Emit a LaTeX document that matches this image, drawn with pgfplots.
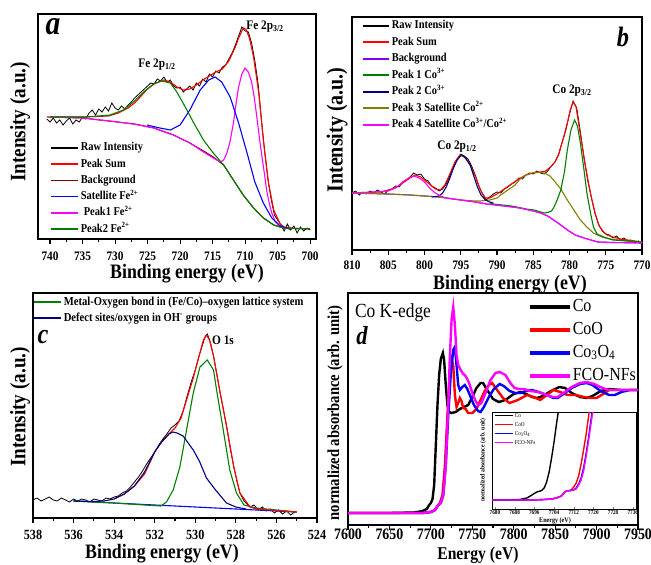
\documentclass[border=0pt]{standalone}
\usepackage{fontspec}
\setmainfont{Liberation Serif}[FakeStretch=0.87]
\usepackage{pgfplots}
\pgfplotsset{compat=1.18}
\newcommand{\fs}[1]{\fontsize{#1}{#1}\selectfont}
\definecolor{xgreen}{RGB}{0,128,0}
\definecolor{xdarkred}{RGB}{128,0,0}
\definecolor{xnavy}{RGB}{0,0,128}
\definecolor{xolive}{RGB}{128,128,0}
\definecolor{xviolet}{RGB}{128,0,255}
\definecolor{xmag}{RGB}{255,0,255}
\pgfplotsset{
  panel/.style={scale only axis, anchor=south west, axis line style={line width=1.5pt},
    tick align=outside, xtick pos=left, ytick=\empty, major tick length=4.5pt, minor tick length=2.5pt,
    every tick/.append style={black, line width=1.1pt}, minor x tick num=1,
    /pgf/number format/assume math mode=true, /pgf/number format/1000 sep={},
    legend cell align=left, every axis plot/.append style={line width=1.1pt}},
  leg/.style={legend style={draw=none, fill=none, inner sep=0pt, column sep=2pt,
    nodes={inner sep=0pt, text height=9pt, text depth=3pt}}},
}
\begin{document}
\begin{tikzpicture}
\useasboundingbox (0,0) rectangle (651pt,-565pt);

% ---------------- (a) Fe 2p
\begin{axis}[panel, leg, at={(38pt,-239pt)}, width=278pt, height=225pt,
  xmin=699.1, xmax=741.85, x dir=reverse, ymin=0, ymax=225, xtick={700,705,...,740},
  x tick label style={font=\bfseries\fs{13}, yshift=-4.5pt},
  legend style={at={(0.043,0.433)}, anchor=north west, row sep=4.3pt, font=\bfseries\fs{12}},
  legend image code/.code={\draw[#1, line width=1.6pt] (0pt,0pt) -- (27pt,0pt);}]
\addlegendimage{black}\addlegendentry{Raw Intensity}
\addlegendimage{red}\addlegendentry{Peak Sum}
\addlegendimage{xdarkred}\addlegendentry{Background}
\addlegendimage{blue}\addlegendentry{Satellite Fe\textsuperscript{2+}}
\addlegendimage{xmag}\addlegendentry{\hspace{3pt}Peak1 Fe\textsuperscript{2+}}
\addlegendimage{xgreen}\addlegendentry{Peak2 Fe\textsuperscript{2+}}
\addplot[forget plot, black, line width=0.8pt] coordinates {(740.5,120)(740,117)(739.5,121)(739,116)(738.5,119)(738,114)(737.5,118)(737,121)(736.5,115)(736,119)(735.5,117)(735,122)(734.5,120)(734,126)(733.5,129)(733,124)(732.5,130)(732,127)(731.5,132)(731,128)(730.5,136)(730,131)(729.5,129)(729,133)(728.5,130)(728,134)(727.5,137)(727,141)(726.5,144)(726,147)(725.5,150)(725,153)(724.5,156)(724,155)(723.5,160)(723,158)(722.5,162)(722,157)(721.5,159)(721,153)(720.5,151)(720,152)(719.5,147)(719,150)(718.5,153)(718,149)(717.5,156)(717,153)(716.5,160)(716,157)(715.5,165)(715,162)(714.5,168)(714,166)(713.5,172)(713,174)(712.5,180)(712,186)(711.5,194)(711,203)(710.5,212)(710,208)(709.5,207)(709,196)(708.5,178)(708,155)(707.5,120)(707,88)(706.5,60)(706,40)(705.5,24)(705,19)(704.5,14)(704,8)(703.5,15)(703,9)(702.5,13)(702,6)(701.5,12)(701,8)(700.5,11)(700,9)};
\addplot[forget plot, red] coordinates {(740.5,122)(735,122)(731,123)(729.5,126)(728,131)(727,136)(726,143)(725,150)(724,155)(723,158)(722.5,159)(721.5,157)(720.5,152)(719.5,149)(718.5,150)(717.5,154)(716.5,159)(715.5,163)(714.5,167)(713.5,170)(712.5,178)(711.5,192)(711,201)(710.5,208)(710.2,211)(709.8,209)(709.3,200)(708.7,182)(707.9,146)(707.2,99)(706.4,56)(705.6,29)(704.6,15)(704,12)(703,11)(702,10)};
\addplot[forget plot, xdarkred] coordinates {(740,122)(735,121)(731,118)(727,115)(724,111)(721,104)(718.5,96)(716.4,88)(714.9,82)(713.3,74)(711.8,59)(710.3,44)(708.7,31)(707.2,21)(705.6,14)(704.1,11)(700,10)};
\addplot[forget plot, xmag] coordinates {(740,122)(734.9,121)(730.8,118)(727.2,115)(724.1,111)(721,104)(718.5,96)(716.4,87)(714.9,81)(713.8,77)(713.3,79)(712.8,86)(712.3,98)(711.8,116)(711.4,135)(711,152)(710.5,165)(710,171)(709.5,167)(709,157)(708.6,142)(708.2,122)(707.8,101)(707.4,82)(707,64)(706.7,49)(706.3,36)(705.9,26)(705.4,18)(704.9,14)(704,11)(703.1,10)};
\addplot[forget plot, blue] coordinates {(725.1,114)(723.1,111)(721.5,109)(720,114)(718.5,129)(716.9,149)(715.6,159)(714.6,162)(713.6,157)(712.3,142)(711,116)(709.7,86)(708.5,57)(707.2,36)(705.9,21)(704.6,13)(703.1,10)};
\addplot[forget plot, xgreen] coordinates {(740,122)(734.4,122)(730.8,124)(728.7,129)(727.2,137)(725.6,147)(724.1,155)(722.8,158)(721.5,156)(720.5,147)(719.2,132)(717.9,116)(716.4,99)(714.9,86)(713.3,74)(711.8,59)(710.3,44)(708.7,31)(707.2,21)(705.6,14)(704.1,11)(700,10)};
\end{axis}

% ---------------- (b) Co 2p
\begin{axis}[panel, leg, at={(352pt,-250pt)}, width=290pt, height=233pt,
  xmin=770, xmax=810, x dir=reverse, ymin=0, ymax=233, xtick={770,775,...,810},
  x tick label style={font=\bfseries\fs{13}, yshift=-3pt},
  legend style={at={(0.0345,0.989)}, anchor=north west, row sep=4.5pt, font=\bfseries\fs{12}},
  legend image code/.code={\draw[#1, line width=1.6pt] (0pt,0pt) -- (26pt,0pt);}]
\addlegendimage{black}\addlegendentry{Raw Intensity}
\addlegendimage{red}\addlegendentry{Peak Sum}
\addlegendimage{xviolet}\addlegendentry{Background}
\addlegendimage{xgreen}\addlegendentry{Peak 1 Co\textsuperscript{3+}}
\addlegendimage{xnavy}\addlegendentry{Peak 2 Co\textsuperscript{3+}}
\addlegendimage{xolive}\addlegendentry{Peak 3 Satellite Co\textsuperscript{2+}}
\addlegendimage{xmag}\addlegendentry{Peak 4 Satellite Co\textsuperscript{3+}/Co\textsuperscript{2+}}
\addplot[forget plot, black, line width=0.8pt] coordinates {(810,57)(809.5,59)(809,55)(808.5,58)(808,56)(807.5,59)(807,57)(806.5,60)(806,58)(805.5,56)(805,60)(804.5,61)(804,64)(803.5,63)(803,68)(802.5,70)(802,73)(801.5,77)(801,75)(800.5,76)(800,71)(799.5,69)(799,64)(798.5,62)(798,59)(797.5,61)(797,66)(796.5,74)(796,84)(795.5,91)(795,96)(794.5,94)(794,91)(793.5,84)(793,75)(792.5,64)(792,56)(791.5,50)(791,53)(790.5,56)(790,58)(789.5,57)(789,61)(788.5,63)(788,66)(787.5,68)(787,72)(786.5,71)(786,75)(785.5,77)(785,76)(784.5,79)(784,77)(783.5,76)(783,79)(782.5,84)(782,88)(781.5,96)(781,108)(780.5,120)(780,136)(779.5,149)(779,142)(778.5,118)(778,92)(777.5,70)(777,53)(776.5,37)(776,26)(775.5,19)(775,16)(774.5,15)(774,12)(773.5,14)(773,10)(772.5,12)(772,9)(771.5,10)(771,7)(770.5,9)(770,5)};
\addplot[forget plot, red] coordinates {(810,57)(806,58)(804,62)(803,67)(802,72)(801.3,75)(800.5,73)(799.5,67)(798.5,61)(797.8,60)(797.2,65)(796.5,76)(795.8,88)(795.1,95)(794.5,93)(793.8,86)(793,74)(792.3,60)(791.6,52)(791,52)(790,56)(789,61)(788,66)(787,71)(786,75)(785,77)(784,78)(783.3,79)(782.6,83)(782,88)(781.5,95)(781.2,103)(780.8,113)(780.3,127)(779.9,140)(779.5,148)(779.1,143)(778.7,125)(778.2,102)(777.8,84)(777.3,64)(776.9,50)(776.4,35)(775.9,24)(775.3,18)(774.8,15)(774,13)(773,11)(772,10)(770,8)};
\addplot[forget plot, xviolet] coordinates {(810,57)(805,56)(802,55)(800,54)(798,53)(795,50)(793,48)(791.4,46)(789,44)(786.8,42)(785,39)(784,37)(783,34)(782.2,30)(781.2,25)(780.3,20)(779.2,15)(778,12)(776.1,8)(774,7.5)(770,7)};
\addplot[forget plot, xolive] coordinates {(810,57)(805,56)(802,55)(800,54)(798,53)(795,50)(793,49)(792.3,49)(791,50)(790,52)(789.5,55)(788.5,60)(787.5,65)(786.8,71)(786,75)(785.2,77)(784.4,78)(783.5,77)(782.7,74)(782.2,70)(781.2,61)(780.3,50)(779.4,40)(778.5,30)(777.6,23)(776.7,17)(775.5,13)(774.4,11)(772,9)(770,8)};
\addplot[forget plot, xgreen] coordinates {(791,47)(790.5,46)(788,44)(786,41)(784.9,40)(783.5,37)(783,37.5)(782.5,39)(782.2,42)(781.7,50)(781.2,60)(780.7,78)(780.3,100)(779.8,120)(779.3,130)(778.9,124)(778.5,107)(778,80)(777.6,57)(777.1,37)(776.7,23)(776.2,16)(775.3,13)(774,10)(772,9)(770,8)};
\addplot[forget plot, xnavy] coordinates {(799,53)(798,54)(797.5,57)(797,63)(796.5,72)(796,82)(795.5,90)(794.9,95)(794.3,92)(793.7,85)(793.2,74)(792.7,63)(792.2,55)(791.6,50)(791,48)(790.5,47)};
\addplot[forget plot, xmag] coordinates {(810,57)(807,58)(805,59)(804,62)(803,68)(802.2,72)(801.5,74)(800.7,72)(800,68)(799.3,62)(798.5,57)(797.8,54)(797,52)(795,50)(793,48)(791.4,46)(789,44)(786.8,42)(785,39)(784,37)(783,34)(782.2,30)(781.2,25)(780.3,20)(779.2,15)(778,12)(776.1,8)(774,7.5)(770,7)};
\end{axis}

% ---------------- (c) O 1s
\begin{axis}[panel, leg, at={(33pt,-518pt)}, width=284pt, height=225pt,
  xmin=524, xmax=538, x dir=reverse, ymin=0, ymax=225, xtick={524,526,...,538},
  x tick label style={font=\bfseries\fs{14}, yshift=-4.5pt},
  legend style={at={(0,0.987)}, anchor=north west, row sep=4pt, font=\bfseries\fs{12.2}},
  legend image code/.code={\draw[#1, line width=1.6pt] (0pt,0pt) -- (27pt,0pt);}]
\addlegendimage{xgreen}\addlegendentry{Metal-Oxygen bond in (Fe/Co)--oxygen lattice system}
\addlegendimage{xnavy}\addlegendentry{Defect sites/oxygen in OH\textsuperscript{-} groups}
\addplot[forget plot, black, line width=0.8pt] coordinates {(538,18)(537.8,20)(537.6,17)(537.4,19)(537.2,21)(537,18)(536.8,17)(536.6,20)(536.4,18)(536.2,16)(536,19)(535.8,17)(535.6,19)(535.4,18)(535.2,16)(535,19)(534.8,18)(534.6,17)(534.4,20)(534.2,19)(534,21)(533.8,22)(533.6,25)(533.4,27)(533.2,31)(533,36)(532.8,41)(532.6,47)(532.4,54)(532.2,60)(532,66)(531.8,73)(531.6,79)(531.4,84)(531.2,90)(531,93)(530.8,97)(530.6,107)(530.4,122)(530.2,136)(530,148)(529.8,163)(529.6,176)(529.5,182)(529.4,184)(529.25,175)(529.1,162)(528.95,145)(528.8,128)(528.6,107)(528.45,91)(528.3,72)(528.1,51)(527.95,37)(527.8,25)(527.6,17)(527.3,11)(527.1,13)(526.9,8)(526.7,11)(526.5,7)(526.3,9)(526.1,5)(525.9,8)(525.7,4)(525.5,7)(525.3,3)(525.1,6)};
\addplot[forget plot, blue] coordinates {(536,17)(525,6)};
\addplot[forget plot, xgreen] coordinates {(536,17)(534,15)(532.5,13)(531.7,12)(531.42,16)(531.09,28)(530.76,51)(530.43,88)(530.1,125)(529.77,151)(529.41,158)(529.1,148)(528.95,128)(528.62,88)(528.3,48)(527.97,25)(527.6,13)(527,10)(526,8)(525,6)};
\addplot[forget plot, red] coordinates {(534,19)(533.5,24)(533,32)(532.5,44)(532,66)(531.7,75)(531.3,84)(531,90)(530.7,100)(530.4,120)(530.1,140)(529.8,163)(529.6,178)(529.45,183)(529.3,178)(529.1,162)(528.8,128)(528.45,91)(528.1,51)(527.8,25)(527.3,11)(527,9)(526,7.5)(525,6)};
\addplot[forget plot, xnavy] coordinates {(536,17)(535,16.5)(534.5,17)(534,19)(533.5,24)(533,32)(532.5,46)(532,66)(531.7,75)(531.3,84)(531.1,86)(530.9,85)(530.6,82)(530.1,68)(529.8,57)(529.45,40)(529,28)(528.46,15)(528,11)(527.5,9)};
\end{axis}

% ---------------- (d) Co K-edge XANES
\begin{axis}[panel, at={(348pt,-525pt)}, width=290pt, height=232pt,
  xmin=7600, xmax=7950, ymin=0, ymax=232, xtick={7600,7650,...,7950},
  x tick label style={font=\bfseries\fs{16}, yshift=4pt},
  every axis plot/.append style={line width=2.4pt},
  legend style={at={(0.621,0.978)}, anchor=north west, draw=none, fill=none, inner sep=0pt, column sep=1pt,
    row sep=6pt, font=\fs{18.4}, nodes={inner sep=0pt, text height=13pt, text depth=4pt}},
  legend image code/.code={\draw[#1, line width=3.5pt] (0pt,0pt) -- (40pt,0pt);}]
\addlegendimage{black}\addlegendentry{Co}
\addlegendimage{red}\addlegendentry{CoO}
\addlegendimage{blue}\addlegendentry{Co\textsubscript{3}O\textsubscript{4}}
\addlegendimage{xmag}\addlegendentry{FCO-NFs}
\addplot[forget plot, black] coordinates {(7600,12)(7650,12)(7680,12.5)(7690,14)(7695,16)(7698,20)(7700,22)(7702,26)(7704,40)(7706,80)(7708,120)(7710,150)(7712,166)(7714.5,172)(7716,165)(7718,140)(7720,120)(7722,113)(7725,112)(7730,113)(7735,116)(7740,118)(7745,120)(7750,128)(7755,137)(7760,142)(7763,142)(7768,135)(7775,126)(7782,123)(7790,125)(7800,131)(7808,133)(7815,131)(7822,128)(7828,127)(7835,129)(7845,134)(7855,138)(7862,137)(7870,132)(7880,128)(7888,127)(7895,129)(7905,134)(7915,136)(7930,135)(7950,135)};
\addplot[forget plot, red] coordinates {(7600,12)(7690,12)(7700,13)(7705,15)(7708,19)(7711,22)(7714,30)(7717,60)(7720,110)(7723,150)(7725.5,165)(7727,160)(7729,130)(7731,118)(7733,122)(7735,127)(7737,124)(7739,117)(7742,116)(7745,112)(7750,112)(7755,116)(7760,125)(7765,134)(7770,140)(7774,142)(7780,135)(7787,127)(7795,122)(7805,125)(7816,130)(7824,128)(7832,125)(7840,130)(7848,135)(7856,133)(7865,130)(7875,130)(7885,128)(7893,127)(7900,127)(7908,131)(7915,135)(7930,135)(7950,135)};
\addplot[forget plot, blue] coordinates {(7600,12)(7690,12)(7700,13)(7705,15)(7709,20)(7712,22)(7715,30)(7718,60)(7721,110)(7724,150)(7727,175)(7729,178)(7731,160)(7733,140)(7735,135)(7738,138)(7741,140)(7744,136)(7748,128)(7752,120)(7757,114)(7760,113)(7764,118)(7770,128)(7776,136)(7783,141)(7788,139)(7795,134)(7802,132)(7808,132)(7815,134)(7822,135)(7830,133)(7840,130)(7848,127)(7853,127)(7860,131)(7870,137)(7880,141)(7888,142)(7895,140)(7905,134)(7915,130)(7922,130)(7930,133)(7940,135)(7950,135)};
\addplot[forget plot, xmag] coordinates {(7600,12)(7690,12)(7700,13)(7705,15)(7709,20)(7712,22)(7715,30)(7718,60)(7721,120)(7723,170)(7725,205)(7727,218)(7729,200)(7731,170)(7733,160)(7736,155)(7739,151)(7741,150)(7744,146)(7747,140)(7750,132)(7754,124)(7757,120)(7761,122)(7766,132)(7772,145)(7778,152)(7783,153)(7790,150)(7796,142)(7801,137)(7806,136)(7812,136)(7820,134)(7830,133)(7840,130)(7847,128)(7853,128)(7860,132)(7870,138)(7880,142)(7888,143)(7897,141)(7907,137)(7915,135)(7930,135)(7950,135)};
\end{axis}

% ---------------- (d) inset
\begin{axis}[scale only axis, anchor=south west, at={(492pt,-509pt)}, width=144pt, height=97pt,
  axis background/.style={fill=white}, axis line style={line width=0.8pt},
  xmin=7678.8, xmax=7737.3, ymin=3, ymax=100, ytick=\empty, xtick pos=left,
  xtick={7680,7688,...,7736}, minor x tick num=1, major tick length=2.5pt, minor tick length=1.5pt,
  x tick label style={font=\bfseries\fs{6}, inner sep=1pt},
  /pgf/number format/assume math mode=true, /pgf/number format/1000 sep={},
  every axis plot/.append style={line width=1.4pt}, legend cell align=left,
  legend style={at={(0.014,0.995)}, anchor=north west, draw=none, fill=none, inner sep=0pt, column sep=1pt,
    row sep=3pt, font=\fs{6}, nodes={inner sep=0pt, text height=4.5pt, text depth=1.5pt}},
  legend image code/.code={\draw[#1, line width=1.6pt] (0pt,0pt) -- (18pt,0pt);}]
\addlegendimage{black}\addlegendentry{Co}
\addlegendimage{red}\addlegendentry{CoO}
\addlegendimage{blue}\addlegendentry{Co\textsubscript{3}O\textsubscript{4}}
\addlegendimage{xmag}\addlegendentry{FCO-NFs}
\addplot[forget plot, black] coordinates {(7679,12)(7685,12)(7690,12.5)(7693,14)(7695,17)(7697,20)(7699,21.5)(7700,24)(7701,30)(7702,40)(7703,54)(7704,70)(7705,88)(7706,105)(7707,120)};
\addplot[forget plot, red] coordinates {(7679,12)(7695,12)(7700,12.5)(7703,13)(7705,14)(7707,16)(7708,19)(7709,21)(7711,22)(7712,25)(7713,29)(7714,36)(7715,48)(7716,62)(7717,77)(7718,95)(7719,112)};
\addplot[forget plot, blue] coordinates {(7679,12)(7695,12)(7700,12.5)(7703,13)(7705,14)(7707,16)(7708,19)(7709,21)(7711,21.5)(7712,22)(7713,24)(7714,28)(7715,34)(7716,44)(7717,58)(7718,74)(7719,92)(7720,110)};
\addplot[forget plot, xmag] coordinates {(7679,12)(7695,12)(7700,12.5)(7703,13)(7705,14)(7707,16)(7708,19)(7709,21)(7711,21.5)(7712,22)(7713,23)(7714,27)(7715,32)(7716,41)(7717,55)(7718,71)(7719,88)(7720,105)(7721,120)};
\end{axis}

% ---------------- labels (image pixel positions)
\begin{scope}[x=1pt, y=-1pt, every node/.style={inner sep=0pt}]
\node[font=\bfseries\fs{20.5}] at (187,274) {Binding energy (eV)};
\node[font=\bfseries\fs{20.5}] at (510,285) {Binding energy (eV)};
\node[font=\bfseries\fs{20.5}] at (162,554) {Binding energy (eV)};
\node[font=\bfseries\fs{18}] at (478,555) {Energy (eV)};
\node[font=\bfseries\fs{22}, rotate=90] at (20,122) {Intensity (a.u.)};
\node[font=\bfseries\fs{23}, rotate=90] at (337,130) {Intensity (a.u.)};
\node[font=\bfseries\fs{22}, rotate=90] at (20,407) {Intensity (a.u.)};
\node[font=\bfseries\fs{16.8}, rotate=90] at (335,413) {normalized absorbance (arb. unit)};
\node[font=\bfseries\itshape\fs{34}] at (53,27) {a};
\node[font=\bfseries\itshape\fs{28}] at (623,37) {b};
\node[font=\bfseries\itshape\fs{28}] at (43,337) {c};
\node[font=\bfseries\itshape\fs{26}] at (362,336) {d};
\node[font=\bfseries\fs{13}] at (157,65) {Fe 2p\textsubscript{1/2}};
\node[font=\bfseries\fs{13}] at (265,27) {Fe 2p\textsubscript{3/2}};
\node[font=\bfseries\fs{13}] at (572,91) {Co 2p\textsubscript{3/2}};
\node[font=\bfseries\fs{13}] at (457,147) {Co 2p\textsubscript{1/2}};
\node[font=\bfseries\fs{13}] at (223,340) {O 1s};
\node[font=\fs{20}] at (393,313) {Co K-edge};
\node[font=\bfseries\fs{6.5}, rotate=90] at (483,460) {normalized absorbance (arb. unit)};
\node[font=\bfseries\fs{7}] at (555,521) {Energy (eV)};
\end{scope}
\end{tikzpicture}
\end{document}
